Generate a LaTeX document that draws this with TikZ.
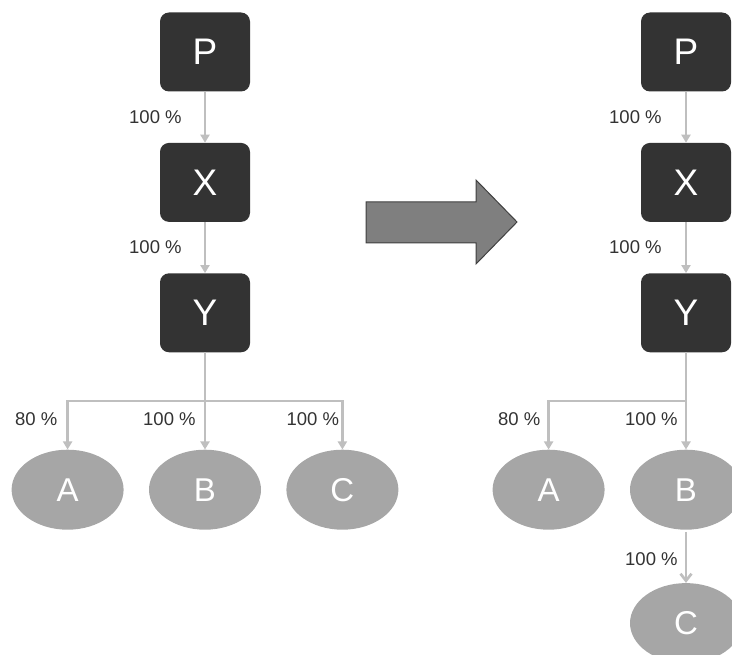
\documentclass[tikz,border=0pt]{standalone}
\usepackage{fontspec}
\setmainfont{Liberation Sans}
\usepackage{tikz}
\usetikzlibrary{positioning, arrows.meta, shapes.geometric}
\definecolor{boxgray}{HTML}{333333}
\definecolor{ellgray}{HTML}{A6A6A6}
\definecolor{linegray}{HTML}{BFBFBF}
\definecolor{txtgray}{HTML}{333333}
\definecolor{bigarrow}{HTML}{7F7F7F}
\definecolor{bigedge}{HTML}{404040}

\tikzset{
  box/.style={rectangle, rounded corners=9pt, fill=boxgray, text=white,
    minimum width=90pt, minimum height=79pt, inner sep=0pt,
    font=\fontsize{37}{37}\selectfont},
  leaf/.style={ellipse, fill=ellgray, text=white,
    minimum width=112pt, minimum height=80pt, inner sep=0pt,
    font=\fontsize{33}{33}\selectfont},
  link/.style={draw=linegray, line width=2.7pt,
    -{Triangle[width=9pt,length=8pt]}},
  openlink/.style={draw=linegray, line width=2.7pt,
    -{Straight Barb[width=11pt,length=7pt]}},
  pct/.style={inner sep=0pt, text=txtgray, font=\fontsize{18.5}{18.5}\selectfont},
}

\begin{document}
\begin{tikzpicture}[x=1pt, y=-1pt]
  \useasboundingbox (0,0) rectangle (732,655);
  \clip (0,0) rectangle (732,655);

  % before
  \node[box] (p1) at (205,52) {P};
  \node[box, below=51pt of p1] (x1) {X};
  \node[box, below=51pt of x1] (y1) {Y};
  \node[leaf, below=97pt of y1] (b1) {B};
  \node[leaf, left=25pt of b1] (a1) {A};
  \node[leaf, right=25pt of b1] (c1) {C};
  \coordinate (s1) at (205,401);

  \draw[link] (p1) -- node[pct, left=22pt] {100 \%} (x1);
  \draw[link] (x1) -- node[pct, left=22pt] {100 \%} (y1);
  \draw[link] (y1) -- node[pct, pos=0.69, left=8pt] {100 \%} (b1);
  \draw[link] (s1) -| node[pct, pos=0.69, left=9pt] {80 \%} (a1);
  \draw[link] (s1) -| node[pct, pos=0.69, left=2pt] {100 \%} (c1);

  % transformation arrow
  \draw[fill=bigarrow, draw=bigedge, line width=1pt]
    (366,202) -- (476,202) -- (476,180) -- (517,222) -- (476,264)
    -- (476,243) -- (366,243) -- cycle;

  % after
  \node[box] (p2) at (686,52) {P};
  \node[box, below=51pt of p2] (x2) {X};
  \node[box, below=51pt of x2] (y2) {Y};
  \node[leaf, below=97pt of y2] (b2) {B};
  \node[leaf, left=25pt of b2] (a2) {A};
  \node[leaf, below=53pt of b2] (c2) {C};
  \coordinate (s2) at (686,401);

  \draw[link] (p2) -- node[pct, left=23pt] {100 \%} (x2);
  \draw[link] (x2) -- node[pct, left=23pt] {100 \%} (y2);
  \draw[link] (y2) -- node[pct, pos=0.69, left=7pt] {100 \%} (b2);
  \draw[link] (s2) -| node[pct, pos=0.69, left=7pt] {80 \%} (a2);
  \draw[openlink, shorten <=2pt] (b2) -- node[pct, pos=0.55, left=7pt] {100 \%} (c2);
\end{tikzpicture}
\end{document}
